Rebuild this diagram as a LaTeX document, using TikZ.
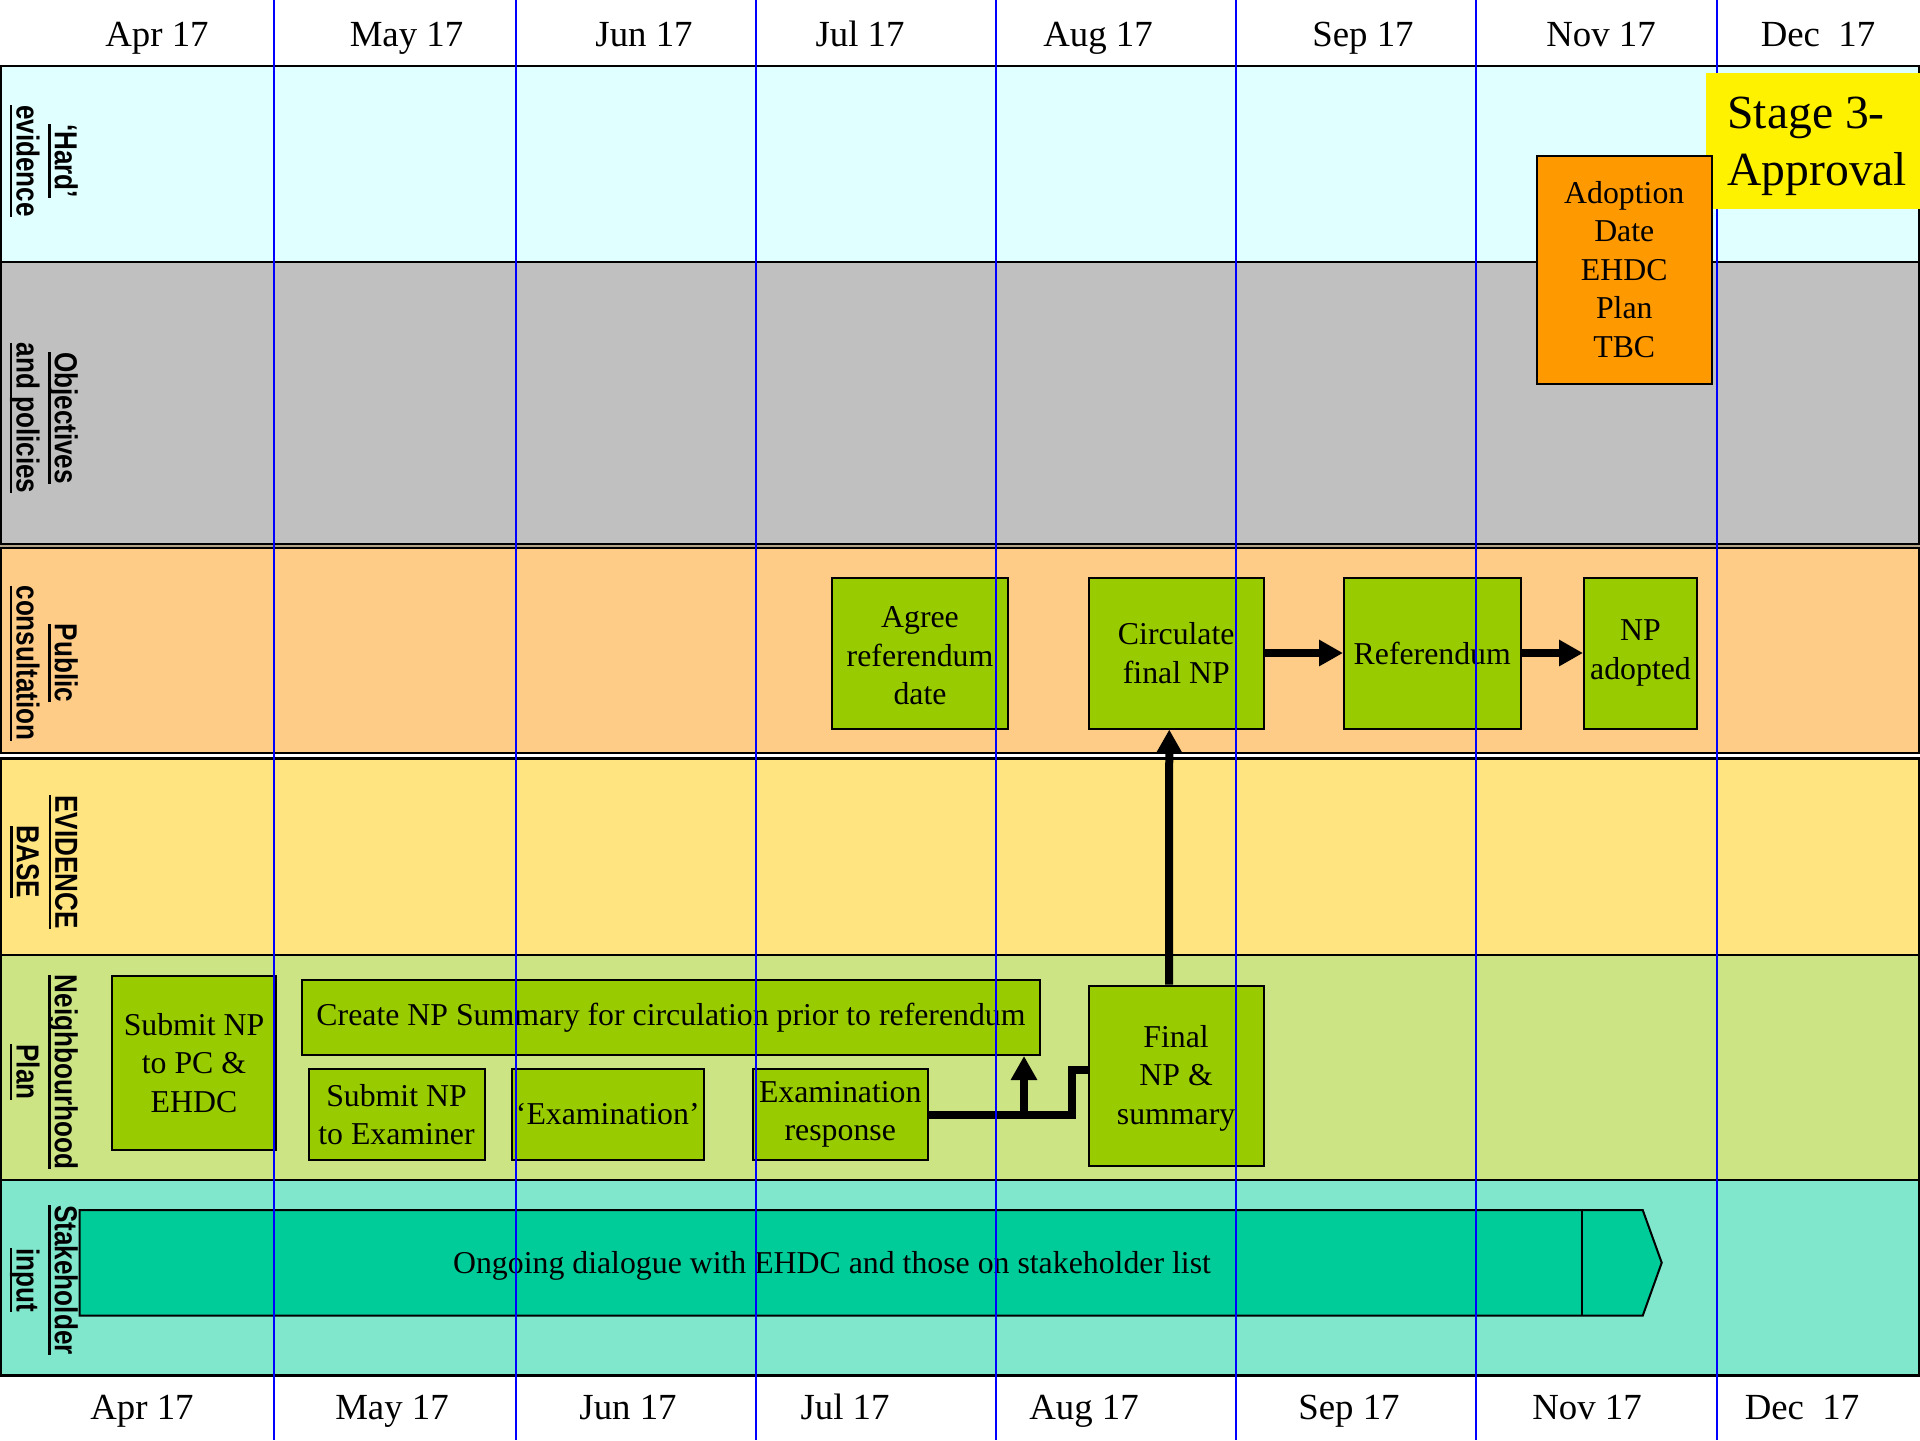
\documentclass[tikz,border=0pt]{standalone}
\usepackage{fontspec}
\setmainfont{Liberation Serif}
\newfontfamily\lanefam[FakeStretch=0.82]{Liberation Sans}
\usetikzlibrary{arrows.meta}
\definecolor{hardc}{HTML}{E0FFFF}
\definecolor{objc}{HTML}{C0C0C0}
\definecolor{pubc}{HTML}{FFCC88}
\definecolor{evic}{HTML}{FFE480}
\definecolor{npc}{HTML}{CCE484}
\definecolor{stkc}{HTML}{80E6CC}
\definecolor{boxg}{HTML}{99CC00}
\definecolor{chevc}{HTML}{00CC99}
\definecolor{orangec}{HTML}{FF9900}
\definecolor{gapc}{HTML}{B4A488}
\newcommand\boxfont{\fontsize{15.9}{19.3}\selectfont}
\newcommand\headfont{\fontsize{18.4}{22}\selectfont}
\newcommand\stagefont{\fontsize{23.8}{28.2}\selectfont}
\newcommand\lanefont{\lanefam\bfseries\fontsize{15.9}{19.2}\selectfont}
\newcommand\lul[1]{\leavevmode\setbox0=\hbox{#1}\dp0=0pt\vtop{\copy0\kern2.2pt\hrule height 1.1pt}}
\begin{document}
\begin{tikzpicture}[x=0.5pt,y=-0.5pt,
  lane/.style={draw=black,line width=1.2pt},
  box/.style={draw=black,line width=1pt,fill=boxg,inner sep=0pt,align=center,font=\boxfont},
  head/.style={font=\headfont,inner sep=0pt,anchor=base},
  lanelbl/.style={rotate=-90,font=\lanefont,align=center,inner sep=0pt},
  arr/.style={line width=4pt,-{Triangle[length=12pt,width=12.5pt]}},
  conn/.style={line width=4pt,line join=miter},
  month/.style={blue,line width=1pt}]

\useasboundingbox (0,0) rectangle (1920,1440);
\fill[white] (0,0) rectangle (1920,1440);

% swim lanes
\filldraw[lane,fill=hardc] (1,66) rectangle (1919,262);
\filldraw[lane,fill=objc] (1,262) rectangle (1919,544);
\fill[gapc] (0,545) rectangle (1920,547);
\filldraw[lane,fill=pubc] (1,548) rectangle (1919,753);
\filldraw[lane,fill=evic] (1,758.5) rectangle (1919,955);
\filldraw[lane,fill=npc] (1,955) rectangle (1919,1180);
\filldraw[lane,fill=stkc] (1,1180) rectangle (1919,1375.5);

% lane labels
\node[lanelbl] (lhard) at (44,161) {\lul{‘Hard’}\\\lul{evidence}};
\node[lanelbl] (lobj) at (44,418) {\lul{Objectives}\\\lul{and policies}};
\node[lanelbl] (lpub) at (44,663) {\lul{Public}\\\lul{consultation}};
\node[lanelbl] (levi) at (44,862) {\lul{EVIDENCE}\\\lul{BASE}};
\node[lanelbl] (lnp) at (44,1072) {\lul{Neighbourhood}\\\lul{Plan}};
\node[lanelbl] (lstk) at (44,1280) {\lul{Stakeholder}\\\lul{input}};

% stakeholder chevron
\filldraw[fill=chevc,draw=black,line width=1pt,line join=miter]
  (79.6,1210) -- (1642.7,1210) -- (1661.7,1262.7) -- (1642.7,1315.7) -- (79.6,1315.7) -- cycle;
\draw[line width=1pt] (1582,1210) -- (1582,1315.7);
\node[font=\boxfont,inner sep=0pt] (ongoing) at (832,1266) {Ongoing dialogue with EHDC and those on stakeholder list};

% public consultation boxes
\node[box,minimum width=88pt,minimum height=75.5pt] (agree) at (920,653) {\strut Agree\\referendum\\date};
\node[box,minimum width=87.75pt,minimum height=75.5pt] (circ) at (1176.25,653) {Circulate\\final NP};
\node[box,minimum width=88.25pt,minimum height=75.5pt] (refer) at (1432.25,653) {Referendum};
\node[box,minimum width=56.5pt,minimum height=75.5pt] (adopted) at (1640.5,653) {NP\\adopted};

% neighbourhood plan boxes
\node[box,minimum width=82pt,minimum height=87.25pt] (sub1) at (194,1062.75) {Submit NP\\to PC \&\\EHDC};
\node[box,minimum width=369pt,minimum height=37.5pt] (summ) at (671,1017.5) {Create NP Summary for circulation prior to referendum};
\node[box,minimum width=88pt,minimum height=45.5pt] (sub2) at (396.5,1114.5) {Submit NP\\to Examiner};
\node[box,minimum width=95.75pt,minimum height=45.5pt] (exam) at (607.75,1114.5) {‘Examination’};
\node[box,minimum width=87.75pt,minimum height=45.5pt] (resp) at (840.25,1114.5) {Examination\\response};
\node[box,minimum width=87.6pt,minimum height=90pt] (final) at (1176.1,1075.7) {\strut Final\\NP \&\\summary};

% connectors
\draw[arr] (circ.east) -- (refer.west);
\draw[arr] (refer.east) -- (adopted.west);
\draw[arr] ([xshift=-3.5pt]final.north) -- ([xshift=-3.5pt]circ.south);
\coordinate (elb) at (1072,1070);
\draw[conn] (resp.east) -| (elb) -- (final.west |- elb);
\coordinate (br) at (1024,1114.5);
\draw[arr] (br) -- (summ.south -| br);

% month lines
\foreach \mx in {274,515.5,755.5,995.5,1235.5,1475.5,1717}
  \draw[month] (\mx,0) -- (\mx,1440);

% stage label and adoption box
\node[fill=yellow,anchor=north west,minimum width=107pt,minimum height=68pt,inner sep=0pt] (stage) at (1706,73) {};
\node[anchor=base west,align=left,inner sep=0pt,font=\stagefont] (stagetxt) at (1727,185) {Stage 3-\\Approval};
\node[box,fill=orangec,minimum width=87.75pt,minimum height=114pt] (adopt) at (1624.25,269.5) {Adoption\\Date\\EHDC\\Plan\\TBC};

% month headers
\node[head] (t1) at (157,46) {Apr 17};
\node[head] (t2) at (406.5,46) {May 17};
\node[head] (t3) at (644,46) {Jun 17};
\node[head] (t4) at (860,46) {Jul 17};
\node[head] (t5) at (1098,46) {Aug 17};
\node[head] (t6) at (1363,46) {Sep 17};
\node[head] (t7) at (1601,46) {Nov 17};
\node[head] (t8) at (1818,46) {Dec~ 17};
\node[head] (b1) at (142,1419) {Apr 17};
\node[head] (b2) at (392,1419) {May 17};
\node[head] (b3) at (628,1419) {Jun 17};
\node[head] (b4) at (845,1419) {Jul 17};
\node[head] (b5) at (1084,1419) {Aug 17};
\node[head] (b6) at (1349,1419) {Sep 17};
\node[head] (b7) at (1587,1419) {Nov 17};
\node[head] (b8) at (1802,1419) {Dec~ 17};
\end{tikzpicture}
\end{document}
